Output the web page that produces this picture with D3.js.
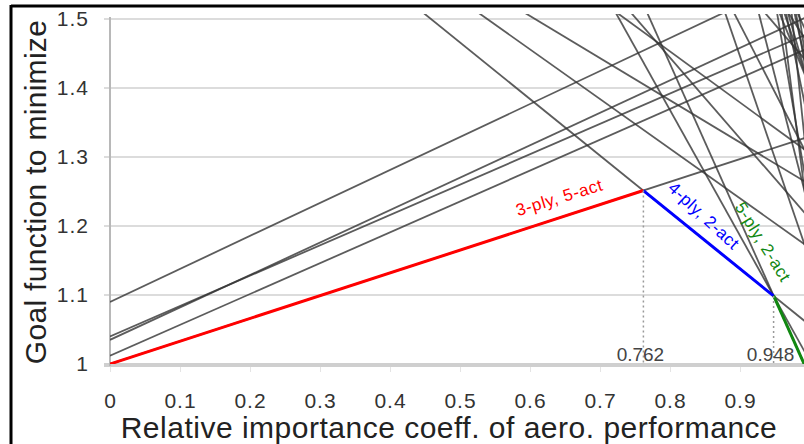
<!DOCTYPE html>
<html>
<head>
<meta charset="utf-8">
<style>
  body { margin: 0; background: #fff; }
  svg { display: block; font-family: "Liberation Sans", Arial, sans-serif; }
</style>
<script src="https://cdn.jsdelivr.net/npm/d3@7"></script>
</head>
<body>
<script>
// goal = intercept + slope * w   (one line per design)
var designIntercept = [1.090, 1.035, 1.040, 1.012, 1.000, 1.876, 1.888, 1.871, 2.824, 2.045, 2.380, 3.251,
                       4.110, 3.265, 5.160, 2.613, 3.871, 6.270, 4.850, 3.040, 7.310, 3.640,
                       7.150, 9.080, 4.360, 11.11, 5.850, 8.300];
var designSlope     = [0.478, 0.470, 0.440, 0.447, 0.330, -0.820, -0.720, -0.611, -1.820, -0.740, -1.170, -2.270,
                       -2.960, -1.970, -3.940, -1.180, -2.470, -4.930, -3.450, -1.580, -5.920, -2.170,
                       -5.920, -7.890, -2.960, -9.860, -4.440, -6.900];

// optimal designs along the lower envelope
var frontIndex  = [4, 5, 11];
var frontLabel  = ["3-ply, 5-act", "4-ply, 2-act", "5-ply, 2-act"];
var frontColor  = ["#ff0000", "#0000ff", "#118811"];
var switchPts   = [0.762, 0.948];

var xTicks = [0, 0.1, 0.2, 0.3, 0.4, 0.5, 0.6, 0.7, 0.8, 0.9];
var yTicks = [1, 1.1, 1.2, 1.3, 1.4, 1.5];

var width = 804, height = 444;

var svg = d3.select("body").append("svg")
    .attr("width", width)
    .attr("height", height);

var x = d3.scaleLinear().domain([0, 1]).range([110, 810]);
var y = d3.scaleLinear().domain([1, 1.5]).range([364, 19]);

// frame
svg.append("line").attr("x1", 11).attr("x2", width).attr("y1", 6).attr("y2", 6)
  .attr("stroke", "#000").attr("stroke-width", 3);
svg.append("line").attr("x1", 11).attr("x2", 11).attr("y1", 5).attr("y2", height)
  .attr("stroke", "#000").attr("stroke-width", 3);

// grid
svg.selectAll(".grid")
  .data(yTicks.slice(1))
  .enter().append("line")
  .attr("x1", 104).attr("x2", width)
  .attr("y1", function(d) { return y(d); })
  .attr("y2", function(d) { return y(d); })
  .attr("stroke", "#dcdcdc").attr("stroke-width", 2);

svg.append("line")
  .attr("x1", 104).attr("x2", width)
  .attr("y1", y(1) + 1).attr("y2", y(1) + 1)
  .attr("stroke", "#cfcfcf").attr("stroke-width", 4);

svg.append("line")
  .attr("x1", 110).attr("x2", 110)
  .attr("y1", y(1.5) - 2).attr("y2", y(1) + 2)
  .attr("stroke", "#b8b8b8").attr("stroke-width", 2);

// axes
var xAxis = d3.axisBottom(x).tickValues(xTicks).tickSize(5).tickPadding(21)
  .tickFormat(function(d) { return String(d); });
var gx = svg.append("g").attr("transform", "translate(0," + (y(1) + 3) + ")").call(xAxis);
gx.select(".domain").remove();
gx.selectAll("line").attr("stroke", "#e4e4e4");
gx.selectAll("text").attr("fill", "#333").style("font-size", "21px").style("letter-spacing", "1px")
  .style("font-family", "\"Liberation Sans\", Arial, sans-serif");

var yAxis = d3.axisLeft(y).tickValues(yTicks).tickSize(0).tickPadding(21)
  .tickFormat(function(d) { return String(d); });
var gy = svg.append("g").attr("transform", "translate(110,0)").call(yAxis);
gy.select(".domain").remove();
gy.selectAll("text").attr("fill", "#333").style("font-size", "21px").style("letter-spacing", "1px")
  .style("font-family", "\"Liberation Sans\", Arial, sans-serif");

// titles
svg.append("text")
  .attr("x", 449).attr("y", 438)
  .attr("text-anchor", "middle")
  .attr("fill", "#222")
  .style("font-size", "30px")
  .style("letter-spacing", "0.5px")
  .text("Relative importance coeff. of aero. performance");

svg.append("text")
  .attr("transform", "translate(46,192) rotate(-90)")
  .attr("text-anchor", "middle")
  .attr("fill", "#222")
  .style("font-size", "30px")
  .style("letter-spacing", "0.3px")
  .text("Goal function to minimize");

// plot
svg.append("clipPath").attr("id", "plotclip")
  .append("rect").attr("x", 110).attr("y", 14).attr("width", width - 110).attr("height", y(1) - 14);

var plot = svg.append("g").attr("clip-path", "url(#plotclip)");

var line = d3.line()
  .x(function(d) { return x(d[0]); })
  .y(function(d) { return y(d[1]); });

function val(i, w) { return designIntercept[i] + designSlope[i] * w; }

plot.selectAll(".design")
  .data(d3.range(designIntercept.length))
  .enter().append("path")
  .attr("d", function(i) { return line([[0, val(i, 0)], [1.2, val(i, 1.2)]]); })
  .attr("fill", "none")
  .attr("stroke", "#333")
  .attr("stroke-opacity", 0.8)
  .attr("stroke-width", 1.8);

var bounds = [0].concat(switchPts).concat([1.2]);

// dotted markers at the switch points
svg.selectAll(".switch")
  .data(switchPts)
  .enter().append("line")
  .attr("x1", function(d) { return x(d); })
  .attr("x2", function(d) { return x(d); })
  .attr("y1", function(d, i) { return y(val(frontIndex[i], d)); })
  .attr("y2", y(1))
  .attr("stroke", "#999")
  .attr("stroke-width", 1.5)
  .attr("stroke-dasharray", "2,3");

svg.selectAll(".switchlabel")
  .data(switchPts)
  .enter().append("text")
  .attr("x", function(d) { return x(d) - 3; })
  .attr("y", y(1) - 3)
  .attr("text-anchor", "middle")
  .attr("fill", "#444")
  .style("font-size", "19px")
  .text(function(d) { return String(d); });

plot.selectAll(".front")
  .data(frontIndex)
  .enter().append("path")
  .attr("d", function(idx, k) {
    return line([[bounds[k], val(idx, bounds[k])], [bounds[k + 1], val(idx, bounds[k + 1])]]);
  })
  .attr("fill", "none")
  .attr("stroke", function(d, k) { return frontColor[k]; })
  .attr("stroke-width", 3);

// segment labels written along the lines
var labelPos = [[561, 203, -17], [700, 220, 43], [758, 245, 58]];
svg.selectAll(".frontlabel")
  .data(frontLabel)
  .enter().append("text")
  .attr("transform", function(d, k) {
    return "translate(" + labelPos[k][0] + "," + labelPos[k][1] + ") rotate(" + labelPos[k][2] + ")";
  })
  .attr("text-anchor", "middle")
  .attr("fill", function(d, k) { return frontColor[k]; })
  .style("font-size", "17px")
  .style("letter-spacing", "0.6px")
  .text(function(d) { return d; });
</script>
</body>
</html>
